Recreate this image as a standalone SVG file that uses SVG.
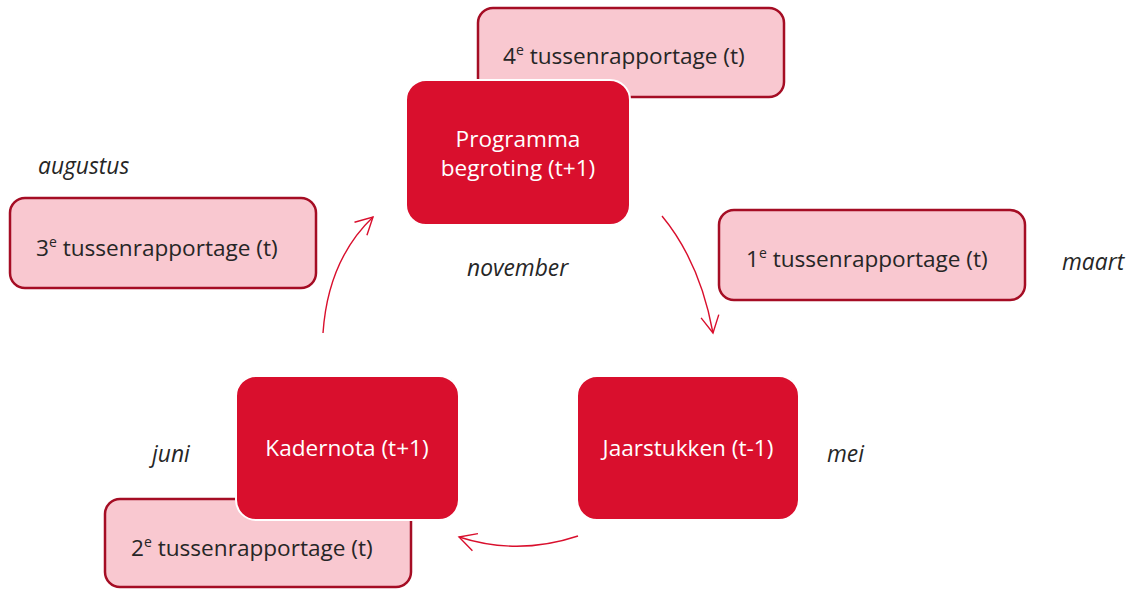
<svg xmlns="http://www.w3.org/2000/svg" width="1142" height="589" viewBox="0 0 1142 589">
  <style>
    .sub { fill: #f9c8d0; stroke: #a50d24; stroke-width: 2.5; }
    .main { fill: #d90f2d; stroke: #ffffff; stroke-width: 2; }
    .lbl { font-family: "Open Sans", "Noto Sans", sans-serif; font-size: 22.6px; fill: #262626; }
    .wlbl { font-family: "Open Sans", "Noto Sans", sans-serif; font-size: 22.6px; fill: #ffffff; text-anchor: middle; }
    .month { font-family: "Open Sans", "Noto Sans", sans-serif; font-size: 22.8px; font-style: italic; fill: #262626; }
    .sup { font-size: 14px; }
    .arc { fill: none; stroke: #d90f2d; stroke-width: 1.4; }
  </style>
  <defs>
    <marker id="open-arrow" markerUnits="userSpaceOnUse" markerWidth="20" markerHeight="20" refX="0" refY="0" orient="auto" overflow="visible">
      <path d="M-17,-9 L0,0 L-17,9" fill="none" stroke="#d90f2d" stroke-width="1.4"/>
    </marker>
  </defs>

  <!-- month labels -->
  <g id="months">
    <text class="month" x="38" y="174">augustus</text>
    <text class="month" x="467" y="276">november</text>
    <text class="month" x="1062" y="270">maart</text>
    <text class="month" x="827" y="462">mei</text>
    <text class="month" x="152" y="462">juni</text>
  </g>

  <!-- interim reports -->
  <g id="report4">
    <rect class="sub" x="478" y="8" width="306" height="89" rx="15"/>
    <text class="lbl" x="503" y="64">4<tspan class="sup" dy="-9">e</tspan><tspan dy="9"> tussenrapportage (t)</tspan></text>
  </g>
  <g id="report3">
    <rect class="sub" x="10" y="198" width="306" height="90" rx="15"/>
    <text class="lbl" x="36" y="256">3<tspan class="sup" dy="-9">e</tspan><tspan dy="9"> tussenrapportage (t)</tspan></text>
  </g>
  <g id="report1">
    <rect class="sub" x="719" y="210" width="306" height="90" rx="15"/>
    <text class="lbl" x="746" y="267">1<tspan class="sup" dy="-9">e</tspan><tspan dy="9"> tussenrapportage (t)</tspan></text>
  </g>
  <g id="report2">
    <rect class="sub" x="105" y="499" width="306" height="88" rx="15"/>
    <text class="lbl" x="131" y="556">2<tspan class="sup" dy="-9">e</tspan><tspan dy="9"> tussenrapportage (t)</tspan></text>
  </g>

  <!-- main documents -->
  <g id="programmabegroting">
    <rect class="main" x="406" y="80" width="224" height="145" rx="20"/>
    <text class="wlbl" x="518" y="147">Programma</text>
    <text class="wlbl" x="518" y="176">begroting (t+1)</text>
  </g>
  <g id="jaarstukken">
    <rect class="main" x="577" y="376" width="222" height="144" rx="20"/>
    <text class="wlbl" x="688" y="456">Jaarstukken (t-1)</text>
  </g>
  <g id="kadernota">
    <rect class="main" x="236" y="376" width="223" height="144" rx="20"/>
    <text class="wlbl" x="347" y="456">Kadernota (t+1)</text>
  </g>

  <!-- cycle arrows -->
  <g id="connectors">
    <path class="arc" d="M662,216 Q700,262 713,333" marker-end="url(#open-arrow)"/>
    <path class="arc" d="M578,536 Q518,556 459,537" marker-end="url(#open-arrow)"/>
    <path class="arc" d="M323,333 Q328,260 373,217" marker-end="url(#open-arrow)"/>
  </g>
</svg>
